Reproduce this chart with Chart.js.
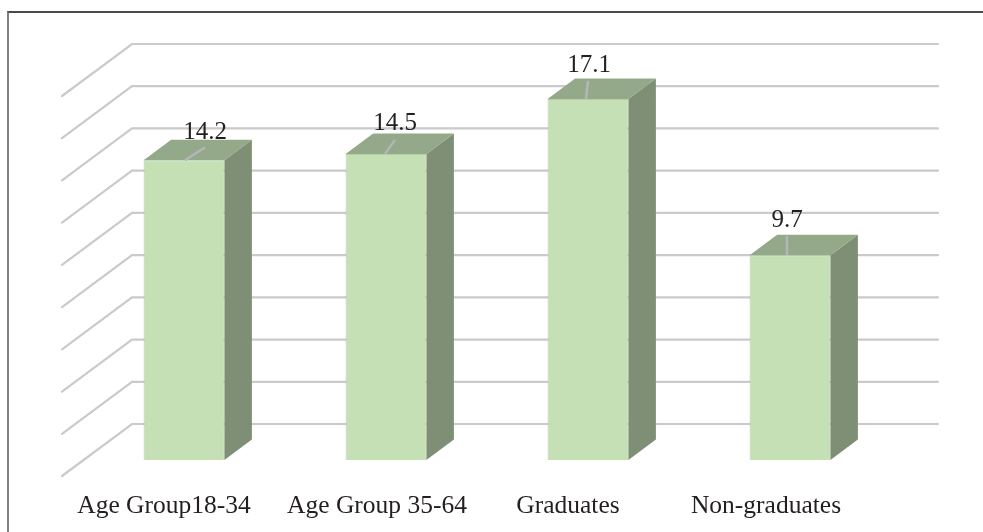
<!DOCTYPE html>
<html>
<head>
<meta charset="utf-8">
<script src="https://cdn.jsdelivr.net/npm/chart.js@4"></script>
<style>
  html, body { margin: 0; padding: 0; background: #fff; overflow: hidden; }
  #frame { position: absolute; left: 7px; top: 11px; right: 0; bottom: 0; border-top: 2px solid #4a4a4a; border-left: 2px solid #808080; pointer-events: none; }
  canvas { position: absolute; left: 0; top: 0; }
</style>
</head>
<body>
<canvas id="chartGrupos" width="983" height="532"></canvas>
<div id="frame"></div>
<script>
const categorias = ['Age Group18-34', 'Age Group 35-64', 'Graduates', 'Non-graduates'];
const valores = [14.2, 14.5, 17.1, 9.7];
const rotulos = ['14.2', '14.5', '17.1', '9.7'];
const ticksY = [0, 2, 4, 6, 8, 10, 12, 14, 16, 18];

// deslocamento dos rotulos e da linha guia em relacao a barra
const rotuloDx = [21, 9, 1, -3];
const rotuloDy = [-21, -23.5, -27, -28];
const guiaIniDx = [1, -1, -2, -3];
const guiaDx = [21, 9, 0, -3];
const guiaDy = [-13, -14, -18, -19];
const categoriaDx = [-20, -9, -20, -24];

// Profundidade 3D
const barraDx = 27.5, barraDy = -20.5;
const fundoDx = 49, fundoDy = -36;
const frenteDx = -21, frenteDy = 16;

const corTexto = '#231f20';

const grade3d = {
    id: 'grade3d',
    beforeDatasetsDraw(chart) {
        const { ctx, chartArea, scales: { y } } = chart;
        ctx.save();
        ctx.strokeStyle = '#cacaca';
        ctx.lineWidth = 2.2;
        ctx.lineCap = 'round';
        ticksY.forEach(v => {
            const py = y.getPixelForValue(v);
            ctx.beginPath();
            ctx.moveTo(chartArea.left + frenteDx, py + frenteDy);
            ctx.lineTo(chartArea.left + fundoDx, py + fundoDy);
            ctx.lineTo(938, py + fundoDy);
            ctx.stroke();
        });
        ctx.restore();
    }
};

const faces3d = {
    id: 'faces3d',
    beforeDatasetDraw(chart) {
        const { ctx } = chart;
        const barras = chart.getDatasetMeta(0).data;
        ctx.save();
        barras.forEach(b => {
            const esq = b.x - b.width / 2, dir = b.x + b.width / 2;
            // lateral
            ctx.fillStyle = '#7e8f75';
            ctx.beginPath();
            ctx.moveTo(dir, b.y);
            ctx.lineTo(dir + barraDx, b.y + barraDy);
            ctx.lineTo(dir + barraDx, b.base + barraDy);
            ctx.lineTo(dir, b.base);
            ctx.closePath();
            ctx.fill();
            // topo
            ctx.fillStyle = '#93a98a';
            ctx.beginPath();
            ctx.moveTo(esq, b.y);
            ctx.lineTo(esq + barraDx, b.y + barraDy);
            ctx.lineTo(dir + barraDx, b.y + barraDy);
            ctx.lineTo(dir, b.y);
            ctx.closePath();
            ctx.fill();
        });
        ctx.restore();
    },
    afterDatasetsDraw(chart) {
        const { ctx, chartArea, scales: { x } } = chart;
        const barras = chart.getDatasetMeta(0).data;
        ctx.save();
        ctx.fillStyle = corTexto;
        ctx.textAlign = 'center';
        ctx.textBaseline = 'alphabetic';
        barras.forEach((b, i) => {
            // linha guia
            ctx.strokeStyle = '#b4b6b8';
            ctx.lineWidth = 2.5;
            ctx.beginPath();
            ctx.moveTo(b.x + guiaIniDx[i], b.y);
            ctx.lineTo(b.x + guiaDx[i], b.y + guiaDy[i]);
            ctx.stroke();
            // rotulo do valor
            ctx.font = '25px "Liberation Serif"';
            ctx.fillText(rotulos[i], b.x + rotuloDx[i], b.y + rotuloDy[i]);
            // categoria
            ctx.font = '25.5px "Liberation Serif"';
            ctx.fillText(categorias[i], x.getPixelForValue(i) + categoriaDx[i], chartArea.bottom + 53);
        });
        ctx.restore();
    }
};

const ctxGrupos = document.getElementById('chartGrupos').getContext('2d');
new Chart(ctxGrupos, {
    type: 'bar',
    data: {
        labels: categorias,
        datasets: [{
            data: valores,
            backgroundColor: '#c5e0b4',
            borderColor: '#b4cfa4',
            borderWidth: 1,
            categoryPercentage: 1,
            barPercentage: 0.4
        }]
    },
    options: {
        responsive: false,
        animation: false,
        layout: { padding: { left: 83, right: 92, top: 80, bottom: 0 } },
        plugins: { legend: { display: false }, tooltip: { enabled: false } },
        scales: {
            x: {
                grid: { display: false },
                border: { display: false },
                ticks: { display: false },
                afterFit(scale) { scale.height = 72; }
            },
            y: {
                display: false,
                min: 0,
                max: 18,
                ticks: { stepSize: 2 }
            }
        }
    },
    plugins: [grade3d, faces3d]
});
</script>
</body>
</html>
